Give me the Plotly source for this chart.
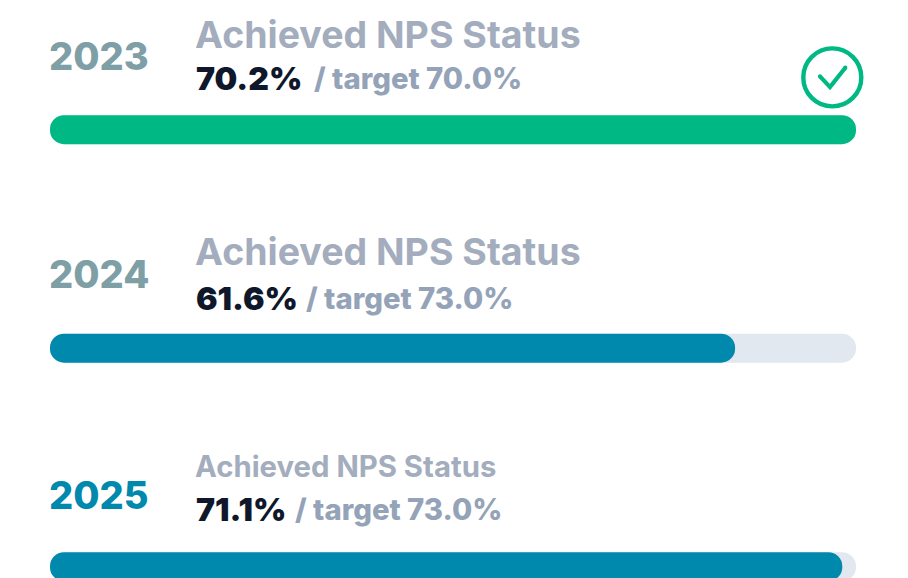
import plotly.graph_objects as go

years = [2023, 2024, 2025]
achieved = [70.2, 61.6, 71.1]
targets = [70.0, 73.0, 73.0]
progress_pct = [100.0, 85.0, 98.3]
track_pct = [100.0, 100.0, 100.0]
bar_start = [0.0, 0.0, 0.0]
title_text = "Achieved NPS Status"

GREEN = "#00B884"
TEAL = "#0089AD"
TRACK = "#E2E8F0"
W, H = 908, 578
L, R = 50, 856
PX_X = (R - L) / 100
YEAR_PX = 218.5
Y0_PX = 129.7
BAR_PX = 29
RADIUS = 14.5

colors = [GREEN if a >= t else TEAL for a, t in zip(achieved, targets)]
year_colors = ["#7F9FA6", "#7F9FA6", TEAL]
title_sizes = [37.5, 37.5, 29.3]
title_dy = [-95.5, -96.5, -100]
year_dy = [-73.5, -74, -72]
value_dy = [-51.5, -50, -57.5]
target_dx = [119, 111, 100]
YEAR_DX, TITLE_DX, VALUE_DX = -3, 142.5, 143.5

fig = go.Figure()
for values, color in ((track_pct, TRACK), (progress_pct, colors)):
    # an explicit base makes Plotly round both ends of each bar
    fig.add_bar(y=years, x=values, base=bar_start, orientation="h", width=BAR_PX / YEAR_PX,
                hoverinfo="skip", marker=dict(color=color, cornerradius=RADIUS, line_width=0))

FONT = "Inter, sans-serif"
for i, yr in enumerate(years):
    fig.add_annotation(x=0, y=yr, xshift=YEAR_DX, text=str(yr), showarrow=False, xanchor="left", yanchor="middle",
                       yshift=-year_dy[i], font=dict(family=FONT, size=38, color=year_colors[i], weight=800))
    fig.add_annotation(x=0, y=yr, xshift=TITLE_DX, yshift=-title_dy[i], text=title_text, showarrow=False,
                       xanchor="left", yanchor="middle",
                       font=dict(family=FONT, size=title_sizes[i], color="#A3ADBD", weight=700))
    fig.add_annotation(x=0, y=yr, xshift=VALUE_DX, yshift=-value_dy[i], text=f"{achieved[i]:.1f}%", showarrow=False,
                       xanchor="left", yanchor="middle",
                       font=dict(family=FONT, size=32, color="#0F172A", weight=900))
    fig.add_annotation(x=0, y=yr, xshift=VALUE_DX - 1 + target_dx[i], yshift=-value_dy[i],
                       text=f"/ target {targets[i]:.1f}%", showarrow=False, xanchor="left", yanchor="middle",
                       font=dict(family=FONT, size=29.3, color="#94A3B8", weight=800))

# check badge, anchored to the end of the first bar (pixel offsets, y up)
anchor = dict(xref="x", yref="y", xsizemode="pixel", ysizemode="pixel", xanchor=100, yanchor=years[0])
cx, cy = -23.7, 52.3
fig.add_shape(type="circle", x0=cx - 29, x1=cx + 29, y0=cy - 29, y1=cy + 29,
              line=dict(color=GREEN, width=4.4), fillcolor="rgba(0,0,0,0)", **anchor)
pts = [(cx - 12.3, cy + 1), (cx - 2.3, cy - 9.7), (cx + 13, cy + 9.7)]
fig.add_shape(type="path", path="M " + " L ".join(f"{x} {y}" for x, y in pts),
              line=dict(color=GREEN, width=4.2), fillcolor="rgba(0,0,0,0)", **anchor)
for x, y in (pts[0], pts[2]):
    fig.add_shape(type="circle", x0=x - 2.1, x1=x + 2.1, y0=y - 2.1, y1=y + 2.1,
                  fillcolor=GREEN, line_width=0, **anchor)

fig.update_layout(
    width=W, height=H, barmode="overlay", showlegend=False,
    margin=dict(l=0, r=0, t=0, b=0), paper_bgcolor="white", plot_bgcolor="white",
    xaxis=dict(range=[-L / PX_X, (W - L) / PX_X], visible=False, fixedrange=True),
    yaxis=dict(range=[years[0] + (H - Y0_PX) / YEAR_PX, years[0] - Y0_PX / YEAR_PX], visible=False, fixedrange=True),
)
fig.write_html("out.html", config={"displayModeBar": False},
               post_script="document.body.style.margin='0';document.body.style.overflow='hidden';")
